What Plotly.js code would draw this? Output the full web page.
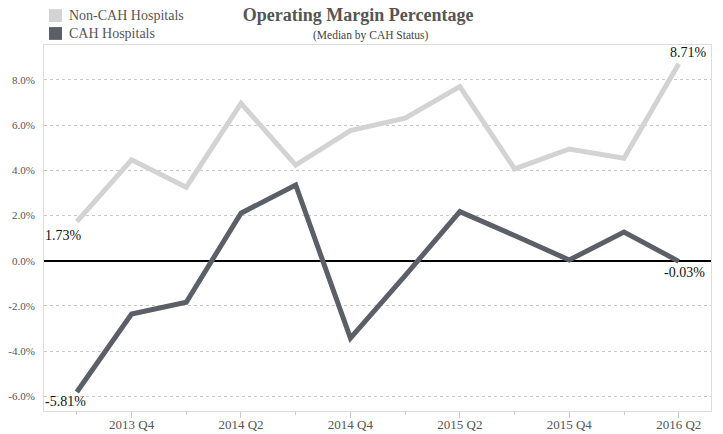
<!DOCTYPE html>
<html>
<head>
<meta charset="utf-8">
<script src="https://cdn.plot.ly/plotly-3.0.1.min.js"></script>
<style>html,body{margin:0;padding:0;background:#fff;}#chart{width:723px;height:434px;}</style>
</head>
<body>
<div id="chart"></div>
<script>
const quarters = ["2013 Q3","2013 Q4","2014 Q1","2014 Q2","2014 Q3","2014 Q4","2015 Q1","2015 Q2","2015 Q3","2015 Q4","2016 Q1","2016 Q2"];
const labeledQuarters = ["2013 Q4","2014 Q2","2014 Q4","2015 Q2","2015 Q4","2016 Q2"];
const minorQuarters = ["2013 Q3","2014 Q1","2014 Q3","2015 Q1","2015 Q3","2016 Q1"];
const nonCah = [1.73, 4.46, 3.25, 6.96, 4.23, 5.75, 6.30, 7.70, 4.06, 4.94, 4.53, 8.71];
const cah = [-5.81, -2.36, -1.84, 2.10, 3.35, -3.43, -0.66, 2.17, 1.11, 0.03, 1.27, -0.03];
const seriesNames = ["Non-CAH Hospitals", "CAH Hospitals"];
const colors = ["#d3d3d3", "#5b5f67"];
const yTicks = [-6, -4, -2, 0, 2, 4, 6, 8];

const serif = "Liberation Serif, Times New Roman, serif";
const last = quarters.length - 1;
const fmt = v => v.toFixed(2) + "%";

const traces = [
  {x: quarters, y: nonCah, name: seriesNames[0], mode: "lines", line: {color: colors[0], width: 5}, showlegend: false, hoverinfo: "skip"},
  {x: quarters, y: cah, name: seriesNames[1], mode: "lines", line: {color: colors[1], width: 5}, showlegend: false, hoverinfo: "skip"}
];

// manual legend (square swatches + labels) placed above the plot area
const legendShapes = seriesNames.map((n, i) => ({
  type: "rect", xref: "paper", yref: "paper",
  x0: 0.0075, x1: 0.027,
  y0: 1.063 - i * 0.049, y1: 1.098 - i * 0.049,
  fillcolor: colors[i], line: {width: 0}
}));
const legendLabels = seriesNames.map((n, i) => ({
  text: n, xref: "paper", yref: "paper", x: 0.034, y: 1.081 - i * 0.049,
  xanchor: "left", yanchor: "middle", showarrow: false,
  font: {family: serif, size: 14, color: "#555"}
}));

const labelFont = {family: serif, size: 14, color: "#111"};
const annotations = legendLabels.concat([
  {text: "(Median by CAH Status)", xref: "paper", yref: "paper", x: 0.49, y: 1.025, yanchor: "middle", showarrow: false, font: {family: serif, size: 11.5, color: "#444"}},
  {x: quarters[0], y: nonCah[0], text: fmt(nonCah[0]), showarrow: false, xanchor: "left", yanchor: "top", xshift: -34, yshift: -4, font: labelFont},
  {x: quarters[0], y: cah[0], text: fmt(cah[0]), showarrow: false, xanchor: "left", yanchor: "top", xshift: -34, yshift: 0, font: labelFont},
  {x: quarters[last], y: nonCah[last], text: fmt(nonCah[last]), showarrow: false, xanchor: "center", yanchor: "bottom", xshift: 10, yshift: 2, font: labelFont},
  {x: quarters[last], y: cah[last], text: fmt(cah[last]), showarrow: false, xanchor: "center", yanchor: "top", xshift: 6, yshift: -2, font: labelFont}
]);

const layout = {
  width: 723, height: 434,
  margin: {l: 44, r: 12, t: 45, b: 23, autoexpand: false},
  paper_bgcolor: "#fff", plot_bgcolor: "#fff",
  font: {family: serif, color: "#555"},
  title: {text: "<b>Operating Margin Percentage</b>", font: {family: serif, size: 18, color: "#555"}, x: 0.471, xanchor: "center", xref: "paper", y: 0.98, yanchor: "top"},
  showlegend: false,
  xaxis: {
    type: "category", categoryorder: "array", categoryarray: quarters,
    range: [-0.6, 11.59],
    tickmode: "array", tickvals: labeledQuarters, ticktext: labeledQuarters,
    ticks: "outside", ticklen: 6, tickcolor: "#ccc", tickwidth: 1,
    minor: {tickmode: "array", tickvals: minorQuarters, ticks: "outside", ticklen: 3, tickcolor: "#ccc"},
    tickfont: {family: serif, size: 13, color: "#555"},
    ticklabelstandoff: -5,
    showgrid: false, showline: true, linecolor: "#ddd", linewidth: 1, mirror: true,
    zeroline: false, fixedrange: true
  },
  yaxis: {
    range: [-6.65, 9.54],
    tickmode: "array", tickvals: yTicks, ticktext: yTicks.map(v => v.toFixed(1) + "%"),
    tickfont: {family: serif, size: 11, color: "#555"},
    ticks: "", ticklabelstandoff: 6,
    showgrid: true, gridcolor: "#c8c8c8", griddash: "dot", gridwidth: 1,
    zeroline: true, zerolinecolor: "#000", zerolinewidth: 2,
    showline: true, linecolor: "#ddd", linewidth: 1, mirror: true, fixedrange: true
  },
  shapes: legendShapes,
  annotations: annotations
};

Plotly.newPlot("chart", traces, layout, {displayModeBar: false, staticPlot: true});
</script>
</body>
</html>
